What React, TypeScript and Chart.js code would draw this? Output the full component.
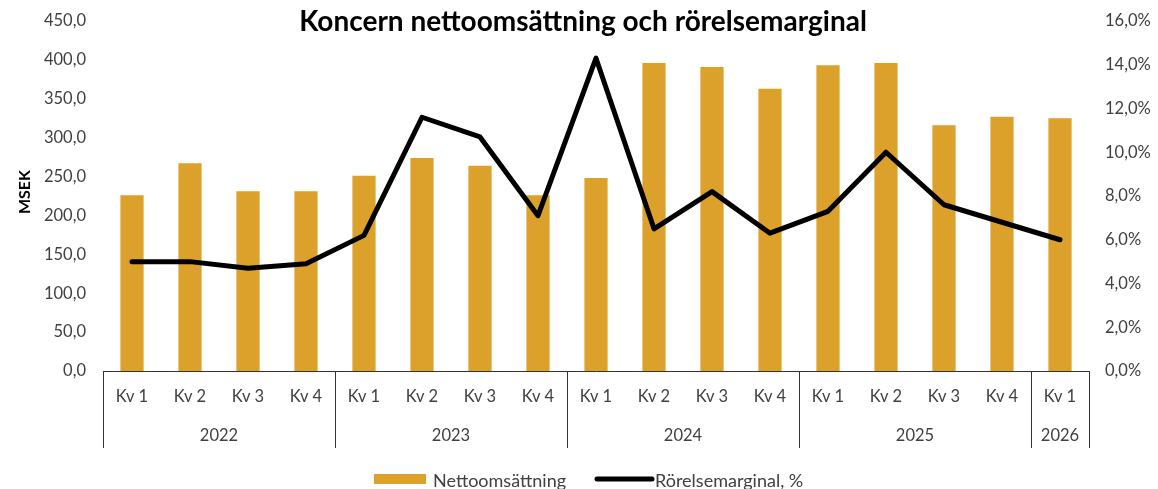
import React, { useEffect, useRef } from "react";
import { Chart, registerables } from "chart.js";

Chart.register(...registerables);

const quarters = ["Kv 1", "Kv 2", "Kv 3", "Kv 4", "Kv 1", "Kv 2", "Kv 3", "Kv 4", "Kv 1", "Kv 2", "Kv 3", "Kv 4", "Kv 1", "Kv 2", "Kv 3", "Kv 4", "Kv 1"];
const years = ["2022", "2023", "2024", "2025", "2026"];
const yearSizes = [4, 4, 4, 4, 1];
const nettoomsattning = [226, 267, 231, 231, 251, 274, 264, 226, 248, 396, 391, 363, 393, 396, 316, 327, 325];
const rorelsemarginal = [5.0, 5.0, 4.7, 4.9, 6.2, 11.6, 10.7, 7.1, 14.3, 6.5, 8.2, 6.3, 7.3, 10.0, 7.6, 6.8, 6.0];
const leftTicks = [0, 50, 100, 150, 200, 250, 300, 350, 400, 450];
const rightTicks = [0, 2, 4, 6, 8, 10, 12, 14, 16];

const FONT = "Lato, 'Noto Sans', sans-serif";
const BAR_COLOR = "#DCA12A";
const TEXT_COLOR = "#404040";
const TICK_SIZE = 16.5;

const fmt = (v: number) => v.toFixed(1).replace(".", ",");

const overlay = {
  id: "overlay",
  afterDraw(chart: any) {
    const ctx = chart.ctx;
    const x = chart.scales.x;
    const area = chart.chartArea;
    ctx.save();
    // separators
    ctx.strokeStyle = "#333";
    ctx.lineWidth = 1;
    let idx = 0;
    const bounds: number[] = [0];
    yearSizes.forEach((s) => {
      idx += s;
      bounds.push(idx);
    });
    bounds.forEach((b) => {
      const px = Math.round(x.getPixelForValue(b - 0.5)) + 0.5;
      ctx.beginPath();
      ctx.moveTo(px, area.bottom);
      ctx.lineTo(px, 448);
      ctx.stroke();
    });
    // year labels
    ctx.fillStyle = TEXT_COLOR;
    ctx.font = `${TICK_SIZE}px ${FONT}`;
    ctx.textAlign = "center";
    ctx.textBaseline = "middle";
    years.forEach((y, i) => {
      const a = x.getPixelForValue(bounds[i] - 0.5);
      const b = x.getPixelForValue(bounds[i + 1] - 0.5);
      ctx.fillText(y, (a + b) / 2, 436);
    });
    // title
    ctx.fillStyle = "#000";
    ctx.font = `bold 28px ${FONT}`;
    ctx.fillText("Koncern nettoomsättning och rörelsemarginal", 583, 22);
    // MSEK
    ctx.save();
    ctx.translate(25, 192);
    ctx.rotate(-Math.PI / 2);
    ctx.font = `bold 16px ${FONT}`;
    ctx.fillStyle = "#000";
    ctx.fillText("MSEK", 0, 0);
    ctx.restore();
    // legend
    ctx.fillStyle = BAR_COLOR;
    ctx.fillRect(374, 474, 52, 10);
    ctx.fillStyle = TEXT_COLOR;
    ctx.font = `18px ${FONT}`;
    ctx.textAlign = "left";
    ctx.fillText("Nettoomsättning", 433, 481);
    ctx.strokeStyle = "#000";
    ctx.lineWidth = 5;
    ctx.lineCap = "round";
    ctx.beginPath();
    ctx.moveTo(597, 479);
    ctx.lineTo(652, 479);
    ctx.stroke();
    ctx.fillText("Rörelsemarginal, %", 655, 481);
    ctx.restore();
  },
};

export default function App() {
  const ref = useRef<HTMLCanvasElement | null>(null);
  useEffect(() => {
    if (!ref.current) return;
    const chart = new Chart(ref.current, {
      type: "bar",
      data: {
        labels: quarters,
        datasets: [
          {
            type: "line",
            label: "Rörelsemarginal, %",
            data: rorelsemarginal,
            yAxisID: "y1",
            borderColor: "#000",
            backgroundColor: "#000",
            borderWidth: 5,
            pointRadius: 0,
            tension: 0,
            borderCapStyle: "round",
            borderJoinStyle: "round",
            order: 0,
          } as any,
          {
            type: "bar",
            label: "Nettoomsättning",
            data: nettoomsattning,
            yAxisID: "y",
            backgroundColor: BAR_COLOR,
            categoryPercentage: 1,
            barPercentage: 0.4,
            order: 1,
          },
        ],
      },
      options: {
        animation: false,
        responsive: false,
        maintainAspectRatio: false,
        layout: { padding: { top: 21, bottom: 40, left: 0, right: 0 } },
        plugins: { legend: { display: false }, title: { display: false }, tooltip: { enabled: false } },
        scales: {
          x: {
            grid: { display: false, drawTicks: false },
            border: { display: true, color: "#333", width: 1 },
            ticks: { color: TEXT_COLOR, font: { family: FONT, size: TICK_SIZE }, padding: 16, maxRotation: 0, autoSkip: false },
            afterFit: (s: any) => { s.height = 78; s.paddingLeft = 0; s.paddingRight = 0; },
          },
          y: {
            position: "left",
            min: 0,
            max: 450,
            afterBuildTicks: (s: any) => { s.ticks = leftTicks.map((v) => ({ value: v })); },
            grid: { display: false, drawTicks: false },
            border: { display: false },
            ticks: { color: TEXT_COLOR, font: { family: FONT, size: TICK_SIZE }, padding: 17, callback: (v: any) => fmt(Number(v)) },
            afterFit: (s: any) => { s.width = 103; s.paddingTop = 0; s.paddingBottom = 0; },
          },
          y1: {
            position: "right",
            min: 0,
            max: 16,
            afterBuildTicks: (s: any) => { s.ticks = rightTicks.map((v) => ({ value: v })); },
            grid: { display: false, drawTicks: false },
            border: { display: false },
            ticks: { color: TEXT_COLOR, font: { family: FONT, size: TICK_SIZE }, padding: 16, callback: (v: any) => fmt(Number(v)) + "%" },
            afterFit: (s: any) => { s.width = 69; s.paddingTop = 0; s.paddingBottom = 0; },
          },
        },
      },
      plugins: [overlay],
    });
    return () => chart.destroy();
  }, []);
  return (
    <div style={{ position: "fixed", left: 0, top: 0, width: 1158, height: 489, background: "#fff" }}>
      <canvas ref={ref} width={1158} height={489} style={{ width: 1158, height: 489 }} />
    </div>
  );
}
